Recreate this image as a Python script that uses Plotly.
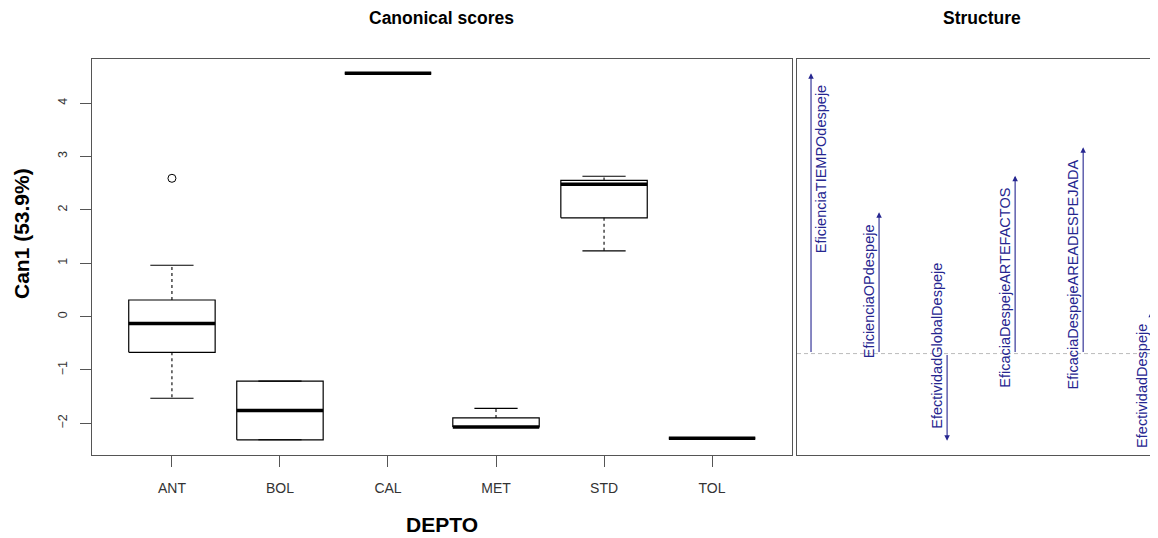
import plotly.graph_objects as go

# ---------------- data ----------------
depto = ["ANT", "BOL", "CAL", "MET", "STD", "TOL"]
whisker_low = [-1.53, -2.31, 4.56, -2.07, 1.23, -2.28]
q1 = [-0.67, -2.31, 4.56, -2.07, 1.85, -2.28]
median = [-0.13, -1.76, 4.56, -2.07, 2.48, -2.28]
q3 = [0.31, -1.21, 4.56, -1.90, 2.55, -2.28]
whisker_high = [0.96, -1.21, 4.56, -1.72, 2.63, -2.28]
outlier_depto = ["ANT"]
outlier_value = [2.59]

variables = ["EficienciaTIEMPOdespeje", "EficienciaOPdespeje", "EfectividadGlobalDespeje",
             "EficaciaDespejeARTEFACTOS", "EficaciaDespejeAREADESPEJADA", "EfectividadDespeje"]
structure = [0.95, 0.479, -0.295, 0.603, 0.699, 0.142]
label_side = ["left", "right", "right", "right", "right", "right"]

# ---------------- style ----------------
OFF = 8  # page body margin
W, H = 1158 - OFF, 538 - OFF
FONT = "Liberation Sans, Arial, sans-serif"
FRAME = "#555555"
NAVY = "#262690"
BOX_HALF = 0.4
CAP_HALF = 0.2


def px_x(p):
    return (p - OFF) / W


def px_y(p):
    return 1 - (p - OFF) / H


fig = go.Figure()

# box outlines
bx, by = [], []
for i in range(len(depto)):
    bx += [i - BOX_HALF, i + BOX_HALF, i + BOX_HALF, i - BOX_HALF, i - BOX_HALF, None]
    by += [q1[i], q1[i], q3[i], q3[i], q1[i], None]
fig.add_trace(go.Scatter(x=bx, y=by, mode="lines", line=dict(color="black", width=1.2),
                         hoverinfo="skip", showlegend=False, xaxis="x", yaxis="y"))

# whiskers (dashed)
wx, wy = [], []
for i in range(len(depto)):
    wx += [i, i, None, i, i, None]
    wy += [q3[i], whisker_high[i], None, q1[i], whisker_low[i], None]
fig.add_trace(go.Scatter(x=wx, y=wy, mode="lines", line=dict(color="black", width=1.1, dash="3px,3px"),
                         hoverinfo="skip", showlegend=False, xaxis="x", yaxis="y"))

# whisker caps
cx, cy = [], []
for i in range(len(depto)):
    cx += [i - CAP_HALF, i + CAP_HALF, None, i - CAP_HALF, i + CAP_HALF, None]
    cy += [whisker_high[i], whisker_high[i], None, whisker_low[i], whisker_low[i], None]
fig.add_trace(go.Scatter(x=cx, y=cy, mode="lines", line=dict(color="black", width=1.1),
                         hoverinfo="skip", showlegend=False, xaxis="x", yaxis="y"))

# medians
mx, my = [], []
for i in range(len(depto)):
    mx += [i - BOX_HALF, i + BOX_HALF, None]
    my += [median[i], median[i], None]
fig.add_trace(go.Scatter(x=mx, y=my, mode="lines", line=dict(color="black", width=3.5),
                         hoverinfo="skip", showlegend=False, xaxis="x", yaxis="y"))

# outliers
fig.add_trace(go.Scatter(x=[depto.index(d) for d in outlier_depto], y=outlier_value, mode="markers",
                         marker=dict(symbol="circle-open", size=8, color="black", line=dict(width=1)),
                         hoverinfo="skip", showlegend=False, xaxis="x", yaxis="y"))

# ---------------- structure panel ----------------
var_x = list(range(1, len(variables) + 1))
fig.add_trace(go.Scatter(x=var_x, y=structure, mode="markers", marker=dict(size=1, color="rgba(0,0,0,0)"),
                         hoverinfo="skip", showlegend=False, xaxis="x2", yaxis="y2"))

annotations = []
for xi, v, name, side in zip(var_x, structure, variables, label_side):
    annotations.append(dict(x=xi, y=v, ax=xi, ay=0, xref="x2", yref="y2", axref="x2", ayref="y2",
                            text="", showarrow=True, arrowhead=2, arrowsize=1.0, arrowwidth=1.1,
                            arrowcolor=NAVY))
    annotations.append(dict(x=xi, y=v, xref="x2", yref="y2", text=name, showarrow=False,
                            textangle=-90, font=dict(family=FONT, size=14.5, color=NAVY),
                            xanchor=side, yanchor="top" if v > 0 else "bottom",
                            yshift=-11 if v > 0 else 11, xshift=1 if side == "left" else -1,
                            borderpad=0))

# titles
annotations += [
    dict(x=px_x(441), y=px_y(18), xref="paper", yref="paper", text="<b>Canonical scores</b>",
         showarrow=False, font=dict(family=FONT, size=17.5, color="black"), xanchor="center", yanchor="middle"),
    dict(x=px_x(982), y=px_y(18), xref="paper", yref="paper", text="<b>Structure</b>",
         showarrow=False, font=dict(family=FONT, size=17.5, color="black"), xanchor="center", yanchor="middle"),
    dict(x=px_x(21), y=px_y(234), xref="paper", yref="paper", text="<b>Can1 (53.9%)</b>",
         showarrow=False, textangle=-90, font=dict(family=FONT, size=21, color="black"),
         xanchor="center", yanchor="middle"),
    dict(x=px_x(442), y=px_y(524), xref="paper", yref="paper", text="<b>DEPTO</b>",
         showarrow=False, font=dict(family=FONT, size=21, color="black"), xanchor="center", yanchor="middle"),
]

top_px, bot_px = 58.5, 454.5
ydom = [px_y(bot_px), px_y(top_px)]

fig.update_layout(
    width=W, height=H,
    margin=dict(l=0, r=0, t=0, b=0),
    paper_bgcolor="white", plot_bgcolor="white",
    font=dict(family=FONT, color="#333333"),
    showlegend=False,
    xaxis=dict(domain=[px_x(92), px_x(792)], range=[-0.74, 5.74], tickvals=list(range(len(depto))),
               ticktext=depto, ticks="outside", ticklen=11, tickcolor=FRAME, tickwidth=1,
               showline=True, mirror=True, linecolor=FRAME, linewidth=1.3, showgrid=False, zeroline=False,
               tickfont=dict(family=FONT, size=14, color="#333333"), ticklabelstandoff=10),
    yaxis=dict(domain=ydom, range=[-2.585, 4.835], tickvals=[-2, -1, 0, 1, 2, 3, 4],
               ticks="outside", ticklen=11, tickcolor=FRAME, tickwidth=1, tickangle=-90,
               showline=True, mirror=True, linecolor=FRAME, linewidth=1.3, showgrid=False, zeroline=False,
               tickfont=dict(family=FONT, size=12.5, color="#333333"), ticklabelstandoff=8),
    xaxis2=dict(domain=[px_x(797), 1.0], range=[0.794, 6.1], anchor="y2", showticklabels=False, ticks="",
                showline=True, mirror=True, linecolor=FRAME, linewidth=1.3, showgrid=False, zeroline=False),
    yaxis2=dict(domain=ydom, range=[-0.342, 1.0], anchor="x2", showticklabels=False, ticks="",
                showline=True, mirror=False, linecolor=FRAME, linewidth=1.3, showgrid=False, zeroline=False),
    annotations=annotations,
    shapes=[dict(type="line", xref="x2 domain", yref="y2", x0=0, x1=1, y0=0, y1=0,
                 line=dict(color="#bbbbbb", width=1, dash="4px,3px"), layer="below")],
)

fig.write_html("out.html")
